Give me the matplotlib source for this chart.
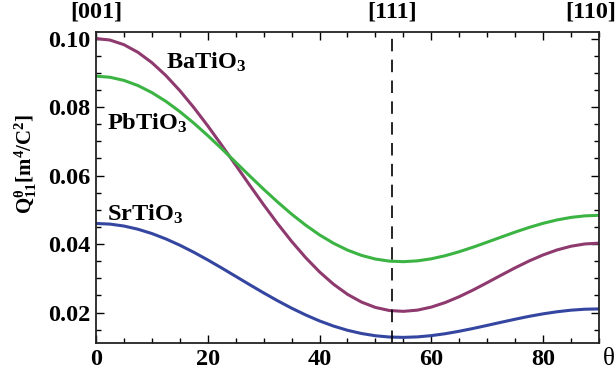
import matplotlib
matplotlib.use("Agg")
import matplotlib.pyplot as plt
from matplotlib.ticker import MultipleLocator

# angle (deg) from [001] towards [110]
theta = [0, 2.5, 5, 7.5, 10, 12.5, 15, 17.5, 20, 22.5, 25, 27.5, 30, 32.5, 35, 37.5,
         40, 42.5, 45, 47.5, 50, 52.5, 55, 57.5, 60, 62.5, 65, 67.5, 70, 72.5, 75,
         77.5, 80, 82.5, 85, 87.5, 90]

# Q11 along theta, m^4/C^2
q_batio3 = [0.1000, 0.09955, 0.09820, 0.09598, 0.09296, 0.08920, 0.08479, 0.07985,
            0.07450, 0.06884, 0.06303, 0.05719, 0.05145, 0.04594, 0.04077, 0.03605,
            0.03185, 0.02826, 0.02531, 0.02305, 0.02148, 0.02058, 0.02034, 0.02069,
            0.02158, 0.02292, 0.02462, 0.02659, 0.02872, 0.03091, 0.03305, 0.03505,
            0.03681, 0.03827, 0.03935, 0.04002, 0.04025]
q_pbtio3 = [0.0890, 0.08869, 0.08777, 0.08627, 0.08421, 0.08166, 0.07866, 0.07530,
            0.07166, 0.06782, 0.06386, 0.05989, 0.05599, 0.05225, 0.04873, 0.04552,
            0.04266, 0.04022, 0.03822, 0.03668, 0.03561, 0.03500, 0.03484, 0.03508,
            0.03568, 0.03659, 0.03775, 0.03909, 0.04054, 0.04202, 0.04348, 0.04484,
            0.04604, 0.04703, 0.04777, 0.04822, 0.04838]
q_srtio3 = [0.0460, 0.04581, 0.04525, 0.04432, 0.04306, 0.04149, 0.03965, 0.03759,
            0.03535, 0.03299, 0.03056, 0.02812, 0.02573, 0.02343, 0.02127, 0.01930,
            0.01754, 0.01604, 0.01481, 0.01387, 0.01321, 0.01284, 0.01274, 0.01288,
            0.01325, 0.01381, 0.01453, 0.01535, 0.01624, 0.01715, 0.01804, 0.01888,
            0.01961, 0.02022, 0.02068, 0.02096, 0.02105]

dir_labels = ["[001]", "[111]", "[110]"]
dir_pos = [0, 53, 88.5]

plt.rcParams['font.family'] = 'Liberation Serif'
plt.rcParams['font.weight'] = 'bold'
plt.rcParams['mathtext.fontset'] = 'custom'
plt.rcParams['mathtext.rm'] = 'Liberation Serif:bold'
plt.rcParams['mathtext.bf'] = 'Liberation Serif:bold'
plt.rcParams['mathtext.it'] = 'Liberation Serif:bold'

fig = plt.figure(figsize=(6.16, 3.76), dpi=100)
ax = fig.add_axes([0.1558, 0.0878, 0.8166, 0.8271])

ax.plot(theta, q_batio3, color='#8e3a6e', lw=2.2)
ax.plot(theta, q_pbtio3, color='#3cb444', lw=2.2)
ax.plot(theta, q_srtio3, color='#3446a0', lw=2.2)
ax.axvline(53, color='black', lw=1.2, ls=(0, (7.5, 5)))

ax.set_xlim(0, 90)
ax.set_ylim(0.0111, 0.1019)
ax.xaxis.set_major_locator(MultipleLocator(20))
ax.xaxis.set_minor_locator(MultipleLocator(5))
ax.yaxis.set_major_locator(MultipleLocator(0.02))
ax.yaxis.set_minor_locator(MultipleLocator(0.005))
ax.yaxis.set_major_formatter(plt.FuncFormatter(lambda v, p: f"{v:.2f}"))
ax.tick_params(which='both', direction='in', top=True, right=True, width=1.0,
               labelsize=17.5, pad=4)
ax.tick_params(which='major', length=6)
ax.tick_params(which='minor', length=3.5)
for s in ax.spines.values():
    s.set_linewidth(1.3)
    s.set_color('#222222')

ax.text(12.5, 0.0913, r'BaTiO$_3$', fontsize=17.5, ha='left', va='baseline')
ax.text(2.0, 0.0735, r'PbTiO$_3$', fontsize=17.5, ha='left', va='baseline')
ax.text(2.0, 0.0467, r'SrTiO$_3$', fontsize=17.5, ha='left', va='baseline')

for lab, x in zip(dir_labels, dir_pos):
    ax.text(x, 1.03, lab, transform=ax.get_xaxis_transform(), fontsize=17.5,
            ha='center', va='bottom')

fig.text(0.042, 0.565, r'$\mathbf{Q_{11}^{\theta}[m^4/C^2]}$', rotation=90,
         fontsize=15, ha='center', va='center')
fig.text(0.988, 0.045, 'θ', fontsize=18, fontweight='normal', ha='center', va='center')

fig.savefig('out.png', dpi=100)
